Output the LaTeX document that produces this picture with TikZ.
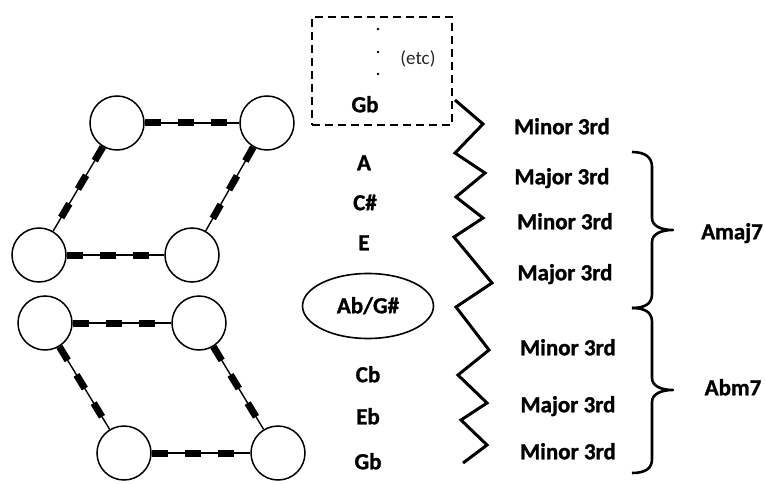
\documentclass[tikz,border=0pt]{standalone}
\usepackage{fontspec}
\setmainfont{Carlito}[BoldFeatures={FakeBold=1.2}]
\usetikzlibrary{shapes.geometric,backgrounds}
\begin{document}
\begin{tikzpicture}[x=1pt,y=-1pt,
  ball/.style={circle, draw, line width=1.5pt, fill=white, minimum size=54pt, inner sep=0pt},
  linkline/.style={line width=1.4pt},
  linkdash/.style={line width=7pt, dash pattern=on 16pt off 17pt},
  lbl/.style={font=\bfseries\fontsize{23}{27}\selectfont, text height=14.5pt, text depth=0pt, inner sep=0pt},
  etcfont/.style={font=\fontsize{19}{23}\selectfont, text=black!85, text height=13pt, text depth=0pt, inner sep=0pt},
  zig/.style={line width=3pt, line join=miter},
  bracepath/.style={line width=2.6pt, line join=round}
]
\useasboundingbox (0,0) rectangle (765,484);

% upper lattice
\node[ball] (a1) at (117,123) {};
\node[ball] (a2) at (267,123) {};
\node[ball] (a3) at (39,255) {};
\node[ball] (a4) at (192,255) {};
% lower lattice
\node[ball] (b1) at (45,323) {};
\node[ball] (b2) at (199,323) {};
\node[ball] (b3) at (124,453) {};
\node[ball] (b4) at (278,453) {};

\begin{scope}[on background layer]
\foreach \p/\q in {a1/a2,a1/a3,a2/a4,a3/a4,b1/b2,b1/b3,b2/b4,b3/b4}{
  \draw[linkline] (\p) -- (\q);
  \draw[linkdash] (\p) -- (\q);
}
\end{scope}

% dashed box with etc
\node[draw, line width=2pt, dash pattern=on 8pt off 5pt, minimum width=140pt, minimum height=108pt, inner sep=0pt] (etcbox) at (382,71) {};
\fill (378,29) circle (1.3pt);
\fill (378,52) circle (1.3pt);
\fill (378,74) circle (1.3pt);
\node[etcfont] (etc) at (418,58) {(etc)};
\node[lbl] (gbtop) at (365,105) {Gb};

% notes
\node[lbl] (na) at (364,163) {A};
\node[lbl] (ncs) at (365,203) {C\#};
\node[lbl] (ne) at (364,243) {E};
\node[ellipse, draw, line width=1.6pt, minimum width=131pt, minimum height=65pt, inner sep=0pt] (ring) at (368,306) {};
\node[lbl] (nab) at (368,306) {Ab/G\#};
\node[lbl] (ncb) at (368,375) {Cb};
\node[lbl] (neb) at (368,417) {Eb};
\node[lbl] (ngb) at (368,462) {Gb};

% zigzag
\draw[zig] (455,100) -- (483,124) -- (455,153) -- (485,173) -- (456,197) -- (483,218)
  -- (454,237) -- (492,283) -- (456,307) -- (489,350) -- (458,375) -- (487,403)
  -- (461,420) -- (487,445) -- (463,463);

% intervals
\node[lbl] (i1) at (562,127) {Minor 3rd};
\node[lbl] (i2) at (562,177) {Major 3rd};
\node[lbl] (i3) at (565,222) {Minor 3rd};
\node[lbl] (i4) at (565,273) {Major 3rd};
\node[lbl] (i5) at (568,348) {Minor 3rd};
\node[lbl] (i6) at (568,405) {Major 3rd};
\node[lbl] (i7) at (568,452) {Minor 3rd};

% braces
\draw[bracepath] (632,152) .. controls (646,152) and (652,158) .. (652,167) -- (652,218)
  .. controls (652,226) and (661,230) .. (673,230)
  .. controls (661,230) and (652,234) .. (652,242) -- (652,294)
  .. controls (652,303) and (646,308) .. (632,308);
\draw[bracepath] (632,308) .. controls (646,308) and (652,313) .. (652,322) -- (652,378)
  .. controls (652,386) and (661,390) .. (673,390)
  .. controls (661,390) and (652,394) .. (652,402) -- (652,459)
  .. controls (652,468) and (646,473) .. (632,473);

\node[lbl] (amaj) at (732,232) {Amaj7};
\node[lbl] (abm) at (733,388) {Abm7};
\end{tikzpicture}
\end{document}
